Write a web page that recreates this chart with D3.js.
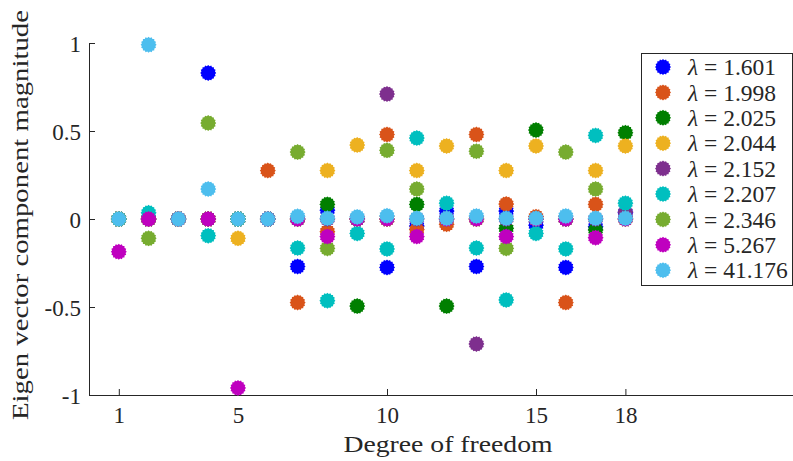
<!DOCTYPE html>
<html>
<head>
<meta charset="utf-8">
<script src="https://cdn.jsdelivr.net/npm/d3@7"></script>
<style>
	body { margin: 0; background: #fff; }
	svg text { font-family: 'Liberation Serif', 'Times New Roman', 'DejaVu Serif', serif !important; fill: #262626; }
</style>
</head>
<body>
<svg id="chart" width="793" height="461"></svg>
<script>

// degrees of freedom on the x axis
var dof = [1, 2, 3, 4, 5, 6, 7, 8, 9, 10, 11, 12, 13, 14, 15, 16, 17, 18];

// eigenvalues, one series per eigenvalue
var lambdas = ['1.601', '1.998', '2.025', '2.044', '2.152', '2.207', '2.346', '5.267', '41.176'];
var colors = ['#0000ff', '#d95319', '#007f00', '#edb120', '#7e2f8e', '#00bfbf', '#77ac30', '#bf00bf', '#4dbeee'];

// eigen vector components
var v1601  = [0, 0, 0, 0.83, 0, 0, -0.27, 0.05, 0, -0.275, -0.04, 0.045, -0.27, 0.045, -0.035, -0.275, -0.044, 0.035];
var v1998  = [0, 0, 0, 0, 0, 0.275, -0.475, -0.072, 0, 0.48, -0.06, -0.03, 0.48, 0.085, 0.013, -0.475, 0.083, 0];
var v2025  = [0, 0, 0, 0, 0, 0, 0, 0.083, -0.495, 0, 0.083, -0.495, 0, -0.053, 0.505, 0, -0.062, 0.49];
var v2044  = [0, 0, 0, 0, -0.11, 0, 0, 0.275, 0.42, 0, 0.275, 0.415, 0, 0.275, 0.415, 0, 0.275, 0.415];
var v2152  = [0, 0, 0, 0, 0, 0, 0, 0, 0, 0.71, 0, 0, -0.71, 0, 0, 0, 0, 0.04];
var v2207  = [0, 0.035, 0, -0.095, 0, 0, -0.165, -0.464, -0.082, -0.17, 0.46, 0.09, -0.165, -0.46, -0.082, -0.17, 0.475, 0.09];
var v2346  = [0, -0.11, 0, 0.545, 0, 0, 0.38, -0.167, 0, 0.39, 0.17, 0, 0.385, -0.167, 0, 0.38, 0.17, 0];
var v5267  = [-0.186, 0, 0, 0, -0.96, 0, 0, -0.1, 0, 0, -0.1, 0, 0, -0.1, 0, 0, -0.106, 0];
var v41176 = [0, 0.99, 0, 0.17, 0, 0, 0.015, 0.004, 0.012, 0.018, 0.004, 0.004, 0.017, 0.004, 0.004, 0.017, 0.004, 0.004];

var series = [v1601, v1998, v2025, v2044, v2152, v2207, v2346, v5267, v41176];

var xTicks = [1, 5, 10, 15, 18];
var yTicks = [-1, -0.5, 0, 0.5, 1];

var serif = "'Liberation Serif', 'Times New Roman', 'DejaVu Serif', serif";

var margin = {top: 43, left: 89, bottom: 66};
var width = 793, height = 461;

var svg = d3.select('#chart');

// scales
var x = d3.scaleLinear().domain([0, 24]).range([margin.left, margin.left + 24 * 29.8]);
var y = d3.scaleLinear().domain([-1, 1]).range([height - margin.bottom, margin.top]);

// jagged round marker, like the matlab one
function marker(r) {
	var pts = [];
	for (var i = 0; i < 32; i++) {
		var a = i * Math.PI / 16;
		var rr = i % 2 === 0 ? r : r - 1.1;
		pts.push([rr * Math.cos(a), rr * Math.sin(a)]);
	}
	return 'M' + pts.join('L') + 'Z';
}
var markPath = marker(8);

// axes
var xAxis = d3.axisBottom(x)
	.tickValues(xTicks)
	.tickFormat(d3.format('d'))
	.tickSizeInner(-6)
	.tickSizeOuter(0)
	.tickPadding(12);

var yAxis = d3.axisLeft(y)
	.tickValues(yTicks)
	.tickFormat(function(d) { return String(d); })
	.tickSizeInner(-6)
	.tickSizeOuter(0)
	.tickPadding(8);

var gx = svg.append('g')
	.attr('transform', 'translate(0,' + y(-1) + ')')
	.call(xAxis);

var gy = svg.append('g')
	.attr('transform', 'translate(' + x(0) + ',0)')
	.call(yAxis);

[gx, gy].forEach(function(g) {
	g.attr('font-family', serif).attr('font-size', 23);
	g.select('.domain').attr('stroke', '#262626').attr('stroke-width', 1);
	g.selectAll('.tick line').attr('stroke', '#262626');
	g.selectAll('.tick text').attr('fill', '#262626');
});
gy.selectAll('.tick text').attr('dy', '0.35em');

// points, one group per eigenvalue, drawn in order
series.forEach(function(vals, s) {
	svg.append('g')
		.selectAll('path')
		.data(vals)
		.enter().append('path')
		.attr('d', markPath)
		.attr('fill', colors[s])
		.attr('transform', function(d, i) {
			return 'translate(' + x(dof[i]) + ',' + y(d) + ')';
		});
});

// axis titles
svg.append('text')
	.attr('x', 448)
	.attr('y', 452)
	.attr('text-anchor', 'middle')
	.attr('font-family', serif)
	.attr('font-size', 24)
	.attr('textLength', 209)
	.attr('lengthAdjust', 'spacingAndGlyphs')
	.text('Degree of freedom');

svg.append('text')
	.attr('transform', 'translate(28,215) rotate(-90)')
	.attr('text-anchor', 'middle')
	.attr('font-family', serif)
	.attr('font-size', 24)
	.attr('textLength', 410)
	.attr('lengthAdjust', 'spacingAndGlyphs')
	.text('Eigen vector component magnitude');

// legend
var legend = svg.append('g');
legend.append('rect')
	.attr('x', 641.5)
	.attr('y', 53.5)
	.attr('width', 151)
	.attr('height', 232)
	.attr('fill', '#fff')
	.attr('stroke', '#262626');

var item = legend.selectAll('g.item')
	.data(lambdas)
	.enter().append('g')
	.attr('class', 'item')
	.attr('transform', function(d, i) { return 'translate(0,' + (67 + i * 25.4) + ')'; });

item.append('path')
	.attr('d', markPath)
	.attr('fill', function(d, i) { return colors[i]; })
	.attr('transform', 'translate(663,0)');

var lab = item.append('text')
	.attr('x', 688)
	.attr('dy', '0.35em')
	.attr('font-family', serif)
	.attr('font-size', 23.5);
lab.append('tspan').attr('font-style', 'italic').text('\u03bb');
lab.append('tspan').text(function(d) { return ' = ' + d; });

</script>
</body>
</html>
